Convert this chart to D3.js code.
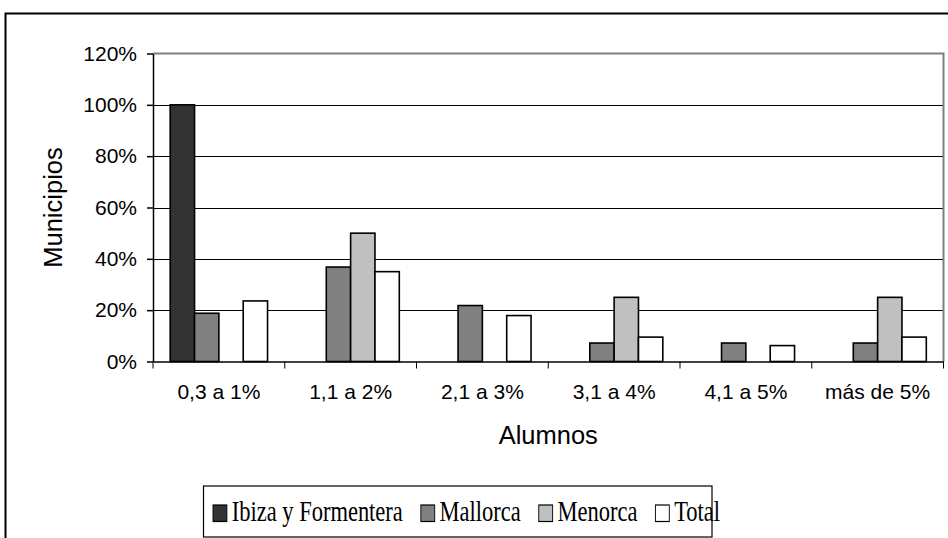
<!DOCTYPE html>
<html>
<head>
<meta charset="utf-8">
<script src="https://cdn.jsdelivr.net/npm/d3@7"></script>
<style>
  body { margin: 0; background: #fff; }
  svg { display: block; }
  .axis text { font-family: "Liberation Sans", Arial, sans-serif; font-size: 21px; fill: #000; }
  .axis path, .axis line { stroke: #000; }
  .title { font-family: "Liberation Sans", Arial, sans-serif; font-size: 25.5px; fill: #000; }
</style>
</head>
<body>
<div id="chart"></div>
<script>
// chart data
var categories = ["0,3 a 1%", "1,1 a 2%", "2,1 a 3%", "3,1 a 4%", "4,1 a 5%", "más de 5%"];
var series = ["Ibiza y Formentera", "Mallorca", "Menorca", "Total"];
var ibiza    = [1.00, 0, 0, 0, 0, 0];
var mallorca = [0.188, 0.368, 0.218, 0.072, 0.072, 0.072];
var menorca  = [0, 0.50, 0, 0.25, 0, 0.25];
var total    = [0.236, 0.35, 0.179, 0.095, 0.062, 0.095];
var yTicks = [0, 0.2, 0.4, 0.6, 0.8, 1.0, 1.2];
var colors = ["#333333", "#808080", "#c0c0c0", "#ffffff"];

var values = [ibiza, mallorca, menorca, total];

var width = 948, height = 538;
// plot area edges (note: "top" is taken by window.top)
var plotL = 153, plotR = 943.5, plotT = 53.5, plotB = 361.5;

var svg = d3.select("#chart").append("svg")
  .attr("width", width)
  .attr("height", height);

// outer chart frame (runs off the picture on right / bottom)
svg.append("rect")
  .attr("x", 5.5).attr("y", 13.5)
  .attr("width", 1000).attr("height", 1000)
  .attr("fill", "none").attr("stroke", "#000").attr("stroke-width", 2);

var y = d3.scaleLinear().domain([0, 1.2]).range([plotB, plotT]);
var x0 = d3.scaleBand().domain(categories).range([plotL, plotR]).padding(0);
var x1 = d3.scaleBand().domain(series)
  .range([17.2, x0.bandwidth() - 17.2]).padding(0);
var color = d3.scaleOrdinal().domain(series).range(colors);

// gridlines
svg.append("g")
  .selectAll("line")
  .data(yTicks.filter(function(d) { return d > 0 && d < 1.2; }))
  .enter().append("line")
  .attr("x1", plotL).attr("x2", plotR)
  .attr("y1", function(d) { return Math.round(y(d)) + 0.5; })
  .attr("y2", function(d) { return Math.round(y(d)) + 0.5; })
  .attr("stroke", "#000").attr("stroke-width", 1);

// plot area border top/right (grey)
svg.append("path")
  .attr("d", "M" + plotL + "," + y(1.2) + "H" + plotR + "V" + plotB)
  .attr("fill", "none").attr("stroke", "#808080").attr("stroke-width", 2);

// bars
var rows = categories.map(function(c, i) {
  return { cat: c, vals: series.map(function(s, j) { return { s: s, v: values[j][i] }; }) };
});

var group = svg.append("g").selectAll("g")
  .data(rows)
  .enter().append("g")
  .attr("transform", function(d) { return "translate(" + x0(d.cat) + ",0)"; });

group.selectAll("rect")
  .data(function(d) { return d.vals.filter(function(o) { return o.v > 0; }); })
  .enter().append("rect")
  .attr("x", function(d) { return x1(d.s); })
  .attr("y", function(d) { return y(d.v); })
  .attr("width", x1.bandwidth())
  .attr("height", function(d) { return plotB - y(d.v); })
  .attr("fill", function(d) { return color(d.s); })
  .attr("stroke", "#000")
  .attr("stroke-width", 1.6);

// y axis
svg.append("g")
  .attr("class", "axis")
  .attr("transform", "translate(" + plotL + ",0)")
  .call(d3.axisLeft(y).tickValues(yTicks).tickFormat(d3.format(".0%"))
    .tickSize(6).tickSizeOuter(0).tickPadding(10))
  .selectAll("path, line").attr("stroke-width", 1.5);

// x axis: labels at band centres, ticks on band edges
var xAxis = svg.append("g")
  .attr("class", "axis")
  .attr("transform", "translate(0," + plotB + ")")
  .call(d3.axisBottom(x0).tickSize(0).tickSizeOuter(0).tickPadding(23));
xAxis.select(".domain").attr("stroke-width", 1.5);

xAxis.selectAll(".edge")
  .data(categories.map(function(c) { return x0(c); }).concat([plotR]))
  .enter().append("line")
  .attr("class", "edge")
  .attr("x1", function(d) { return d; }).attr("x2", function(d) { return d; })
  .attr("y1", 0).attr("y2", 7)
  .attr("stroke", "#000").attr("stroke-width", 1);

// axis titles
svg.append("text")
  .attr("class", "title")
  .attr("x", (plotL + plotR) / 2).attr("y", 444)
  .attr("text-anchor", "middle")
  .text("Alumnos");

svg.append("text")
  .attr("class", "title")
  .attr("transform", "translate(62," + ((plotT + plotB) / 2) + ") rotate(-90)")
  .attr("text-anchor", "middle")
  .text("Municipios");

// legend (horizontally squeezed, like the original)
svg.append("rect")
  .attr("x", 203.5).attr("y", 486)
  .attr("width", 508.5).attr("height", 51)
  .attr("fill", "#fff").attr("stroke", "#000").attr("stroke-width", 1.2);

var sx = 0.75;
var legend = svg.append("g")
  .attr("transform", "translate(213,0) scale(" + sx + ",1)");

var cursor = 0;
series.forEach(function(s) {
  legend.append("rect")
    .attr("x", cursor).attr("y", 505)
    .attr("width", 18.5).attr("height", 16.5)
    .attr("fill", color(s)).attr("stroke", "#000").attr("stroke-width", 1.2);
  var t = legend.append("text")
    .attr("x", cursor + 25).attr("y", 521.5)
    .style("font-family", "Liberation Serif, Times New Roman, serif")
    .style("font-size", "30px")
    .text(s);
  cursor += 25 + t.node().getComputedTextLength() + 24;
});
</script>
</body>
</html>
